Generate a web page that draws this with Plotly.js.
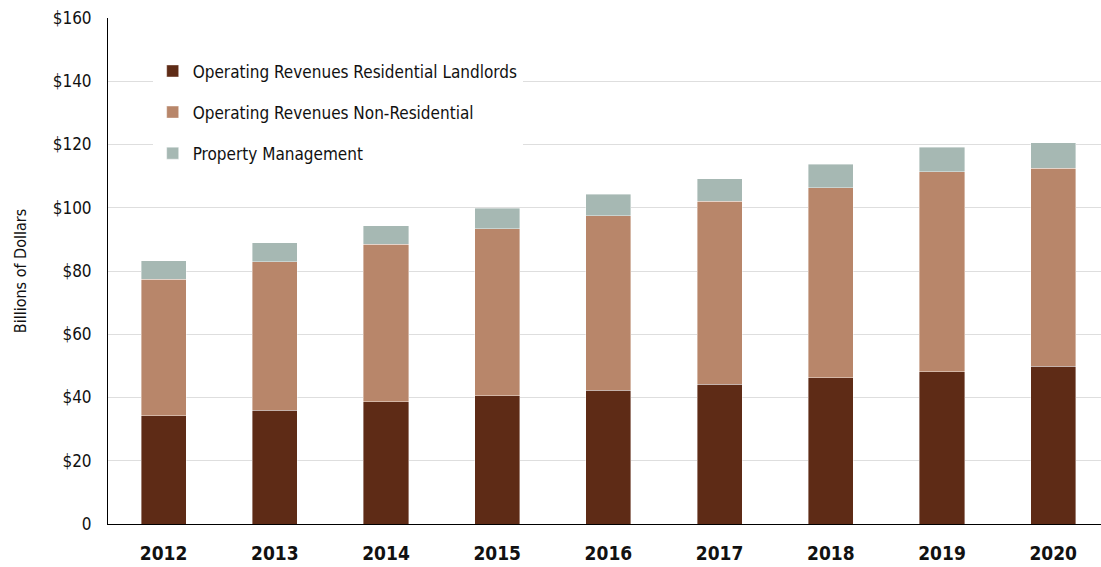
<!DOCTYPE html>
<html>
<head>
<meta charset="utf-8">
<script src="https://cdn.plot.ly/plotly-3.0.1.min.js"></script>
<style>html,body{margin:0;padding:0;background:#fff;}#chart{width:1101px;height:567px;}</style>
</head>
<body>
<div id="chart"></div>
<script>
const years = ["2012","2013","2014","2015","2016","2017","2018","2019","2020"];
const residential = [34.2, 36.0, 38.6, 40.5, 42.3, 44.2, 46.3, 48.2, 49.9];
const nonResidential = [43.2, 47.0, 49.8, 52.9, 55.2, 57.9, 60.0, 63.2, 62.6];
const propertyMgmt = [5.8, 5.9, 5.9, 6.4, 6.8, 7.0, 7.5, 7.8, 8.0];
const seriesNames = ["Operating Revenues Residential Landlords", "Operating Revenues Non-Residential", "Property Management"];
const yTickVals = [0, 20, 40, 60, 80, 100, 120, 140, 160];
const yTickText = ["0", "$20", "$40", "$60", "$80", "$100", "$120", "$140", "$160"];

const FONT = '"Liberation Sans Narrow", "DejaVu Sans Condensed", "Arial Narrow", sans-serif';
const colors = ["#5e2b16", "#b8866a", "#a6b8b3"];
const values = [residential, nonResidential, propertyMgmt];

const traces = values.map((v, i) => ({
  type: 'bar',
  x: years,
  y: v,
  name: seriesNames[i],
  legendgroup: 'g' + i,
  marker: {color: colors[i], line: {color: 'rgba(255,255,255,0.5)', width: 0.8}},
  width: 0.405,
  hoverinfo: 'none'
}));

const layout = {
  width: 1101, height: 567,
  margin: {l: 108, r: 0, t: 18, b: 43},
  barmode: 'stack',
  paper_bgcolor: '#fff', plot_bgcolor: '#fff',
  font: {family: FONT, color: '#111', size: 16},
  showlegend: true,
  legend: {
    x: 0.045, y: 0.93, xanchor: 'left', yanchor: 'top',
    bgcolor: '#fff',
    traceorder: 'grouped',
    tracegroupgap: 16,
    font: {family: FONT, size: 17, color: '#111'},
    itemwidth: 30
  },
  xaxis: {
    type: 'category',
    range: [-0.5, 8.43],
    showline: true, linecolor: '#000', linewidth: 1,
    showgrid: false, ticks: '', zeroline: false,
    tickfont: {family: FONT, size: 19, color: '#111', weight: 'bold'},
    ticklabelstandoff: 12
  },
  yaxis: {
    range: [0, 160],
    tickvals: yTickVals, ticktext: yTickText,
    showline: true, linecolor: '#000', linewidth: 1,
    showgrid: true, gridcolor: '#dedede', gridwidth: 1,
    zeroline: false, ticks: '',
    tickfont: {family: FONT, size: 17, color: '#111'},
    ticklabelstandoff: 12,
    title: {text: 'Billions of Dollars', font: {family: FONT, size: 16, color: '#111'}, standoff: 22}
  }
};

Plotly.newPlot('chart', traces, layout, {displayModeBar: false, staticPlot: true});
</script>
</body>
</html>
